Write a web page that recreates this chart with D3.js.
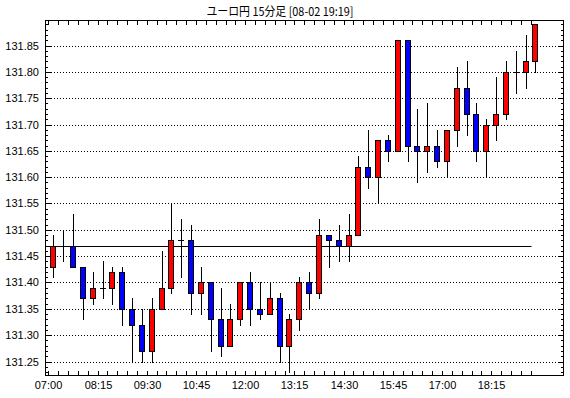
<!DOCTYPE html>
<html><head><meta charset="utf-8">
<script src="https://cdn.jsdelivr.net/npm/d3@7"></script>
<style>body{margin:0;background:#fff}svg{display:block}</style></head>
<body><svg id="c" width="570" height="398"></svg>
<script>
const title = "ユーロ円 15分足 [08-02 19:19]";
const times = ["07:00","07:15","07:30","07:45","08:00","08:15","08:30","08:45","09:00","09:15",
"09:30","09:45","10:00","10:15","10:30","10:45","11:00","11:15","11:30","11:45",
"12:00","12:15","12:30","12:45","13:00","13:15","13:30","13:45","14:00","14:15",
"14:30","14:45","15:00","15:15","15:30","15:45","16:00","16:15","16:30","16:45",
"17:00","17:15","17:30","17:45","18:00","18:15","18:30","18:45","19:00","19:15"];
const open  = [131.43,131.47,131.47,131.43,131.37,131.39,131.39,131.42,131.35,131.32,
131.27,131.35,131.39,131.48,131.48,131.38,131.40,131.33,131.28,131.33,
131.40,131.35,131.34,131.37,131.28,131.33,131.40,131.38,131.49,131.48,
131.47,131.49,131.62,131.60,131.67,131.65,131.86,131.66,131.65,131.66,
131.63,131.69,131.77,131.72,131.65,131.70,131.72,131.80,131.80,131.82];
const high  = [131.49,131.50,131.53,131.43,131.42,131.44,131.43,131.43,131.37,131.35,
131.37,131.46,131.55,131.52,131.51,131.43,131.40,131.39,131.36,131.40,
131.42,131.40,131.40,131.38,131.34,131.41,131.42,131.52,131.49,131.51,
131.53,131.64,131.69,131.67,131.68,131.86,131.86,131.73,131.74,131.69,
131.69,131.81,131.82,131.74,131.71,131.79,131.82,131.84,131.87,131.89];
const low   = [131.41,131.44,131.43,131.33,131.36,131.37,131.36,131.32,131.25,131.25,
131.25,131.35,131.38,131.41,131.34,131.34,131.27,131.26,131.28,131.32,
131.32,131.33,131.34,131.25,131.23,131.31,131.35,131.37,131.43,131.44,
131.44,131.49,131.58,131.55,131.63,131.65,131.63,131.59,131.61,131.62,
131.60,131.66,131.68,131.63,131.60,131.67,131.71,131.76,131.77,131.80];
const close = [131.47,131.47,131.43,131.37,131.39,131.39,131.42,131.35,131.32,131.27,
131.35,131.39,131.48,131.48,131.38,131.40,131.33,131.28,131.33,131.40,
131.35,131.34,131.37,131.28,131.33,131.40,131.38,131.49,131.48,131.47,
131.49,131.62,131.60,131.67,131.65,131.86,131.66,131.65,131.66,131.63,
131.69,131.77,131.72,131.65,131.70,131.72,131.80,131.80,131.82,131.89];
const yTickLabels = ["131.25","131.30","131.35","131.40","131.45","131.50","131.55","131.60","131.65","131.70","131.75","131.80","131.85"];
const xTickLabels = ["07:00","08:15","09:30","10:45","12:00","13:15","14:30","15:45","17:00","18:15"];
const refPrice = 131.47;

const svg = d3.select("#c");
const F = {l:45, r:564, t:20, b:376};
const y = d3.scaleLinear().domain([131.25,131.85]).range([361.5,45.5]);
const x = d3.scaleLinear().domain([0, times.length]).range([48.4, 48.4 + times.length*9.84]);
const px = v => Math.round(v) + 0.5;
const yMin = y.invert(F.b), yMax = y.invert(F.t);

// title
svg.append("text").attr("x", 280).attr("y", 16).attr("text-anchor","middle")
  .attr("font-family","'Noto Sans CJK JP', sans-serif").attr("font-size", 12)
  .attr("textLength", 147).attr("lengthAdjust","spacingAndGlyphs")
  .text(title);

// gridlines
const g = svg.append("g");
yTickLabels.forEach(t => {
  const yy = px(y(+t));
  g.append("line").attr("x1", F.l).attr("x2", F.r).attr("y1", yy).attr("y2", yy)
    .attr("stroke","#000").attr("stroke-dasharray","1,2");
  svg.append("text").attr("x", 39).attr("y", yy).attr("dy","0.35em")
    .attr("text-anchor","end").attr("font-family","'Liberation Sans', Arial, sans-serif")
    .attr("font-size", 11).text(t);
});

// minor y ticks both sides
const lo = Math.ceil(yMin*100), hi = Math.floor(yMax*100);
d3.range(lo, hi+1).forEach(k => {
  const yy = px(y(k/100));
  const len = (k % 5 === 0) ? 6 : 3;
  svg.append("line").attr("x1", F.l).attr("x2", F.l+len).attr("y1", yy).attr("y2", yy).attr("stroke","#000");
  svg.append("line").attr("x1", F.r-len).attr("x2", F.r).attr("y1", yy).attr("y2", yy).attr("stroke","#000");
});

// x ticks top and bottom
times.forEach((t,i) => {
  const xx = px(x(i));
  svg.append("line").attr("x1", xx).attr("x2", xx).attr("y1", F.t).attr("y2", F.t+5).attr("stroke","#000");
  svg.append("line").attr("x1", xx).attr("x2", xx).attr("y1", F.b-5).attr("y2", F.b).attr("stroke","#000");
  if (xTickLabels.includes(t)) {
    svg.append("text").attr("x", xx).attr("y", 389).attr("text-anchor","middle")
      .attr("font-family","'Liberation Sans', Arial, sans-serif").attr("font-size", 11).text(t);
  }
});

// reference line
svg.append("line").attr("x1", F.l).attr("x2", px(x(times.length-1)))
  .attr("y1", px(y(refPrice))).attr("y2", px(y(refPrice))).attr("stroke","#000");

// candles
times.forEach((t,i) => {
  const c = Math.round(x(i+0.5));
  const o = open[i], cl = close[i];
  svg.append("line").attr("x1", c+0.5).attr("x2", c+0.5)
    .attr("y1", Math.round(y(high[i]))).attr("y2", Math.round(y(low[i]))+1).attr("stroke","#000");
  const top = Math.round(y(Math.max(o,cl))), bot = Math.round(y(Math.min(o,cl)));
  if (o === cl) {
    svg.append("line").attr("x1", c-3).attr("x2", c+3).attr("y1", top+0.5).attr("y2", top+0.5).attr("stroke","#000");
  } else {
    svg.append("rect").attr("x", c-2.5).attr("y", top+0.5).attr("width", 5).attr("height", bot-top)
      .attr("fill", cl > o ? "#ff0000" : "#0000ff").attr("stroke","#000");
  }
});

// frame
svg.append("rect").attr("x", F.l+0.5).attr("y", F.t+0.5).attr("width", F.r-F.l-1).attr("height", F.b-F.t-1)
  .attr("fill","none").attr("stroke","#000");
</script></body></html>
